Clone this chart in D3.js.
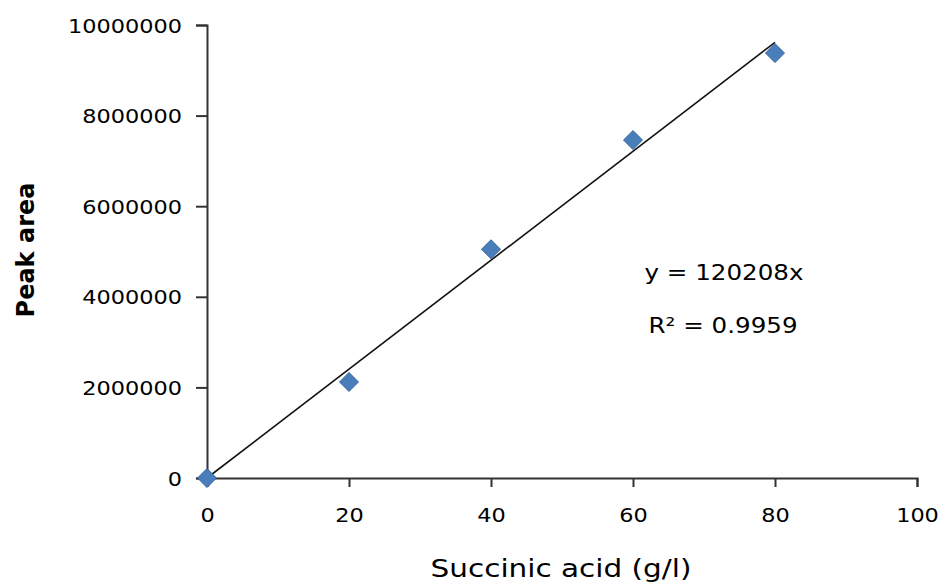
<!DOCTYPE html>
<html>
<head>
<meta charset="utf-8">
<script src="https://cdn.jsdelivr.net/npm/d3@7"></script>
<style>
  body { margin: 0; background: #fff; }
  svg text { font-family: "DejaVu Sans", Verdana, sans-serif; fill: #000; }
</style>
</head>
<body>
<div id="drawArea"></div>
<script>
// data
var concentrations = [0, 20, 40, 60, 80];
var peakAreas = [0, 2120000, 5050000, 7460000, 9380000];
var xTicks = [0, 20, 40, 60, 80, 100];
var yTicks = [0, 2000000, 4000000, 6000000, 8000000, 10000000];
var slope = 120208;
var eqLabel = "y = 120208x";
var r2Label = "R² = 0.9959";

var width = 944, height = 584;
var margin = {left: 207, right: 27, top: 25, bottom: 106};
var stretch = 1.12; // the reference text is drawn a bit wide

var svg = d3.select("#drawArea").append("svg")
  .attr("width", width)
  .attr("height", height);

var x = d3.scaleLinear().domain([0, 100]).range([margin.left, width - margin.right]);
var y = d3.scaleLinear().domain([0, 10000000]).range([height - margin.bottom, margin.top]);

// y axis
var yAxis = svg.append("g")
  .attr("transform", "translate(" + margin.left + ",0)")
  .call(d3.axisLeft(y).tickValues(yTicks).tickSize(11).tickFormat(d3.format("d")));

// x axis
var xAxis = svg.append("g")
  .attr("transform", "translate(0," + y(0) + ")")
  .call(d3.axisBottom(x).tickValues(xTicks).tickSize(9).tickFormat(d3.format("d")));

[yAxis, xAxis].forEach(function(ax){
  ax.select(".domain").attr("stroke", "#333").attr("stroke-width", 2);
  ax.selectAll(".tick line").attr("stroke", "#333").attr("stroke-width", 2);
  ax.selectAll(".tick text").attr("font-size", 20).attr("fill", "#000")
    .attr("font-family", "DejaVu Sans, Verdana, sans-serif");
});
yAxis.selectAll(".tick text")
  .attr("x", 0).attr("dy", "0.35em")
  .attr("transform", "translate(-25,0) scale(" + stretch + ",1)");
xAxis.selectAll(".tick text")
  .attr("y", 0).attr("dy", "0.35em")
  .attr("transform", "translate(0,37) scale(" + stretch + ",1)");

// trend line
svg.append("line")
  .attr("x1", x(0)).attr("y1", y(0))
  .attr("x2", x(80)).attr("y2", y(slope * 80))
  .attr("stroke", "#111")
  .attr("stroke-width", 1.6);

// markers
var diamond = d3.symbol().type(d3.symbolDiamond2).size(230);
svg.append("g").selectAll("path")
  .data(concentrations)
  .join("path")
    .attr("d", diamond)
    .attr("transform", function(d, i){ return "translate(" + x(d) + "," + y(peakAreas[i]) + ")"; })
    .attr("fill", "#4a7ebb")
    .attr("stroke", "#35659f")
    .attr("stroke-width", 1);

function wideText(cx, cy, size, sx, str){
  return svg.append("text")
    .attr("transform", "translate(" + cx + "," + cy + ") scale(" + sx + ",1)")
    .attr("text-anchor", "middle")
    .attr("font-size", size)
    .text(str);
}

// equation labels
wideText(724, 280, 21, 1.17, eqLabel);
wideText(723, 333, 21, 1.17, r2Label);

// axis titles
wideText(561, 577, 25, 1.18, "Succinic acid (g/l)");

svg.append("text")
  .attr("transform", "translate(34,250) rotate(-90)")
  .attr("text-anchor", "middle")
  .attr("font-size", 24)
  .attr("font-weight", "bold")
  .text("Peak area");
</script>
</body>
</html>
